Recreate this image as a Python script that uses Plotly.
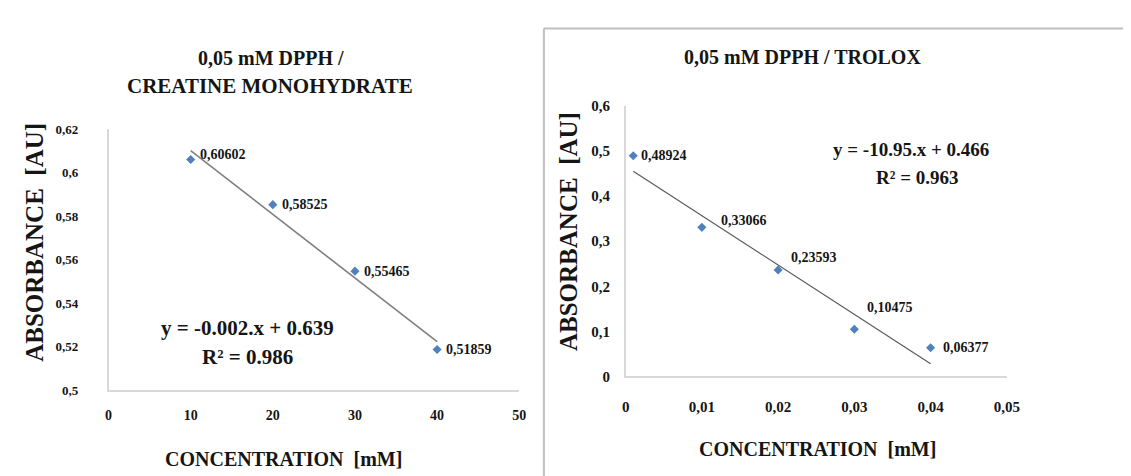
import numpy as np
import plotly.graph_objects as go

# ---------------- data ----------------
creatine_conc = [10, 20, 30, 40]
creatine_abs = [0.60602, 0.58525, 0.55465, 0.51859]

trolox_conc = [0.001, 0.01, 0.02, 0.03, 0.04]
trolox_abs = [0.48924, 0.33066, 0.23593, 0.10475, 0.06377]

left_xtickvals = [0, 10, 20, 30, 40, 50]
left_xticktext = ["0", "10", "20", "30", "40", "50"]
left_ytickvals = [0.5, 0.52, 0.54, 0.56, 0.58, 0.6, 0.62]
left_yticktext = ["0,5", "0,52", "0,54", "0,56", "0,58", "0,6", "0,62"]

right_xtickvals = [0, 0.01, 0.02, 0.03, 0.04, 0.05]
right_xticktext = ["0", "0,01", "0,02", "0,03", "0,04", "0,05"]
right_ytickvals = [0, 0.1, 0.2, 0.3, 0.4, 0.5, 0.6]
right_yticktext = ["0", "0,1", "0,2", "0,3", "0,4", "0,5", "0,6"]

left_title = ["0,05 mM DPPH /", "CREATINE MONOHYDRATE"]
right_title = "0,05 mM DPPH / TROLOX"
left_equation = ["y = -0.002.x + 0.639", "R² = 0.986"]
right_equation = ["y = -10.95.x + 0.466", "R² = 0.963"]
x_title = "CONCENTRATION  [mM]"
y_title = "ABSORBANCE\u00a0 [AU]"

# ---------------- styling ----------------
W, H = 1131, 476
FONT = "Liberation Serif"
INK = "#151515"
MARKER = "#4F81BD"
AXIS = "#d9d9d9"


def px(x):
    return x / W


def py(y):
    return 1 - y / H


def fmt(v):
    return f"{v:.5f}".replace(".", ",")


fig = go.Figure()

# --- left chart ---
fig.add_trace(go.Scatter(
    x=creatine_conc, y=creatine_abs, mode="markers",
    marker=dict(symbol="diamond", size=7, color=MARKER),
    xaxis="x", yaxis="y", showlegend=False, cliponaxis=False))
cl = np.polyfit(creatine_conc, creatine_abs, 1)
xl = [min(creatine_conc), max(creatine_conc)]
fig.add_trace(go.Scatter(
    x=xl, y=[cl[0] * v + cl[1] for v in xl], mode="lines",
    line=dict(color="#7f7f7f", width=1.6),
    xaxis="x", yaxis="y", showlegend=False, cliponaxis=False))

# --- right chart ---
fig.add_trace(go.Scatter(
    x=trolox_conc, y=trolox_abs, mode="markers",
    marker=dict(symbol="diamond", size=7, color=MARKER),
    xaxis="x2", yaxis="y2", showlegend=False, cliponaxis=False))
cr = np.polyfit(trolox_conc, trolox_abs, 1)
xr = [min(trolox_conc), max(trolox_conc)]
fig.add_trace(go.Scatter(
    x=xr, y=[cr[0] * v + cr[1] for v in xr], mode="lines",
    line=dict(color="#5a5a5a", width=1.2),
    xaxis="x2", yaxis="y2", showlegend=False, cliponaxis=False))

annotations = []

# data labels
left_shift = [(7, 5), (7, 0), (7, 0), (7, 0)]
for xv, yv, (dx, dy) in zip(creatine_conc, creatine_abs, left_shift):
    annotations.append(dict(
        x=xv, y=yv, xref="x", yref="y", text=fmt(yv), showarrow=False,
        xanchor="left", yanchor="middle", xshift=dx, yshift=dy,
        font=dict(family=FONT, size=14, color=INK, weight="bold")))
right_shift = [(6, 0), (17, 7), (11, 13), (11, 22), (10, 0)]
for xv, yv, (dx, dy) in zip(trolox_conc, trolox_abs, right_shift):
    annotations.append(dict(
        x=xv, y=yv, xref="x2", yref="y2", text=fmt(yv), showarrow=False,
        xanchor="left", yanchor="middle", xshift=dx, yshift=dy,
        font=dict(family=FONT, size=14, color=INK, weight="bold")))

# titles
annotations.append(dict(x=px(263), y=py(43), xref="paper", yref="paper",
                        text=left_title[0], showarrow=False,
                        xanchor="center", yanchor="middle",
                        font=dict(family=FONT, size=20, color=INK, weight="bold")))
annotations.append(dict(x=px(262), y=py(72), xref="paper", yref="paper",
                        text=left_title[1], showarrow=False,
                        xanchor="center", yanchor="middle",
                        font=dict(family=FONT, size=21, color=INK, weight="bold")))
annotations.append(dict(x=px(803), y=py(42), xref="paper", yref="paper",
                        text=right_title, showarrow=False,
                        xanchor="center", yanchor="middle",
                        font=dict(family=FONT, size=20, color=INK, weight="bold")))

# axis titles
annotations.append(dict(x=px(276), y=py(458), xref="paper", yref="paper",
                        text=x_title, showarrow=False,
                        xanchor="center", yanchor="middle",
                        font=dict(family=FONT, size=20, color=INK, weight="bold")))
annotations.append(dict(x=px(818), y=py(448), xref="paper", yref="paper",
                        text=x_title, showarrow=False,
                        xanchor="center", yanchor="middle",
                        font=dict(family=FONT, size=20, color=INK, weight="bold")))
annotations.append(dict(x=px(22), y=py(234), xref="paper", yref="paper",
                        text=y_title, showarrow=False, textangle=-90,
                        xanchor="center", yanchor="middle",
                        font=dict(family=FONT, size=25, color=INK, weight="bold")))
annotations.append(dict(x=px(565), y=py(223), xref="paper", yref="paper",
                        text=y_title, showarrow=False, textangle=-90,
                        xanchor="center", yanchor="middle",
                        font=dict(family=FONT, size=25, color=INK, weight="bold")))

# equations
annotations.append(dict(x=px(239), y=py(323), xref="paper", yref="paper",
                        text=left_equation[0], showarrow=False,
                        xanchor="center", yanchor="middle",
                        font=dict(family=FONT, size=21, color=INK, weight="bold")))
annotations.append(dict(x=px(239), y=py(353), xref="paper", yref="paper",
                        text=left_equation[1], showarrow=False,
                        xanchor="center", yanchor="middle",
                        font=dict(family=FONT, size=21, color=INK, weight="bold")))
annotations.append(dict(x=px(913), y=py(138), xref="paper", yref="paper",
                        text=right_equation[0], showarrow=False,
                        xanchor="center", yanchor="middle",
                        font=dict(family=FONT, size=19, color=INK, weight="bold")))
annotations.append(dict(x=px(919), y=py(167), xref="paper", yref="paper",
                        text=right_equation[1], showarrow=False,
                        xanchor="center", yanchor="middle",
                        font=dict(family=FONT, size=19, color=INK, weight="bold")))

axis_common = dict(showline=True, linecolor=AXIS, linewidth=1.5, showgrid=False,
                   zeroline=False, ticks="outside", tickcolor="rgba(0,0,0,0)",
                   tickmode="array", fixedrange=True)

fig.update_layout(
    width=W, height=H,
    margin=dict(l=0, r=0, t=0, b=0),
    paper_bgcolor="white", plot_bgcolor="white",
    showlegend=False,
    xaxis=dict(axis_common, domain=[px(98), px(515)], range=[0, 50], anchor="y",
               tickvals=left_xtickvals, ticktext=left_xticktext, ticklen=11,
               tickfont=dict(family=FONT, size=14, color=INK, weight="bold")),
    yaxis=dict(axis_common, domain=[py(387), py(117)], range=[0.5, 0.62], anchor="x",
               tickvals=left_ytickvals, ticktext=left_yticktext, ticklen=26,
               tickfont=dict(family=FONT, size=13, color=INK, weight="bold")),
    xaxis2=dict(axis_common, domain=[px(623), px(1010)], range=[0, 0.05], anchor="y2",
                tickvals=right_xtickvals, ticktext=right_xticktext, ticklen=16,
                tickfont=dict(family=FONT, size=15, color=INK, weight="bold")),
    yaxis2=dict(axis_common, domain=[py(373), py(93)], range=[0, 0.6], anchor="x2",
                tickvals=right_ytickvals, ticktext=right_yticktext, ticklen=11,
                tickfont=dict(family=FONT, size=15, color=INK, weight="bold")),
    annotations=annotations,
    shapes=[
        dict(type="line", xref="paper", yref="paper",
             x0=px(540), x1=px(540), y0=py(13), y1=-0.05,
             line=dict(color="#bfbfbf", width=2)),
        dict(type="line", xref="paper", yref="paper",
             x0=px(540), x1=1.05, y0=py(13), y1=py(13),
             line=dict(color="#bfbfbf", width=2)),
    ],
)

fig.write_html("out.html")
